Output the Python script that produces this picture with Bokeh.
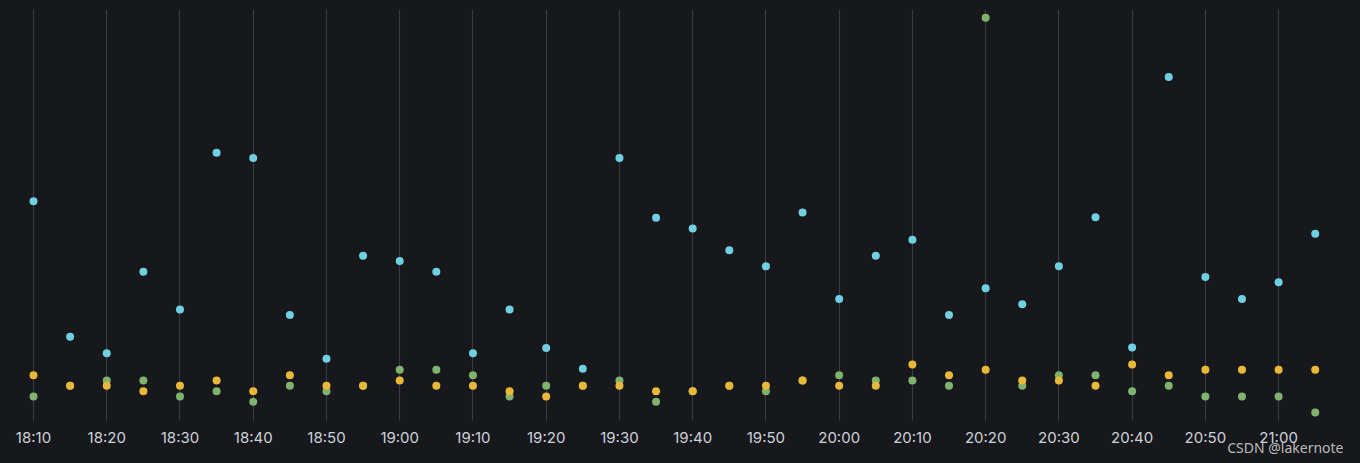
import pandas as pd
from bokeh.plotting import figure
from bokeh.models import Range1d, FixedTicker, DatetimeTickFormatter, Title, ColumnDataSource
from bokeh.embed import file_html
from bokeh.resources import INLINE

# ---- data ----
times = pd.date_range("2022-01-01 18:10", "2022-01-01 21:05", freq="5min")

cyan_values = [40.6, 15.2, 12.1, 27.4, 20.3, 49.7, 48.7, 19.3, 11.1, 30.4, 29.4, 27.4,
               12.1, 20.3, 13.1, 9.2, 48.7, 37.5, 35.5, 31.4, 28.4, 38.5, 22.3, 30.4,
               33.4, 19.3, 24.3, 21.3, 28.4, 37.6, 13.2, 63.9, 26.4, 22.3, 25.4, 34.5]
green_values = [4, 6, 7, 7, 4, 5, 3, 6, 5, 6, 9, 9,
                8, 4, 6, 6, 7, 3, 5, 6, 5, 7, 8, 7,
                7, 6, 75, 6, 8, 8, 5, 6, 4, 4, 4, 1]
yellow_values = [8, 6, 6, 5, 6, 7, 5, 8, 6, 6, 7, 6,
                 6, 5, 4, 6, 6, 5, 5, 6, 6, 7, 6, 6,
                 10, 8, 9, 7, 7, 6, 10, 8, 9, 9, 9, 9]
tick_times = pd.date_range("2022-01-01 18:10", "2022-01-01 21:00", freq="10min")

BG = "#17181c"
CYAN = "#6ED0E0"
GREEN = "#7EB26D"
YELLOW = "#EAB839"

src = ColumnDataSource(dict(t=times, cyan=cyan_values, green=green_values, yellow=yellow_values))

x0 = pd.Timestamp("2022-01-01 18:10")
x_start = x0 - pd.Timedelta(minutes=4.506)
x_end = x0 + pd.Timedelta(minutes=181.18)

p = figure(width=1360, height=463, output_backend="svg", toolbar_location=None,
           x_axis_type="datetime", y_axis_location=None,
           x_range=Range1d(x_start, x_end), y_range=Range1d(-0.5, 76.56),
           min_border_left=0, min_border_right=0, min_border_top=9, min_border_bottom=43)
p.background_fill_color = BG
p.border_fill_color = BG
p.outline_line_color = None
p.styles = {"background-color": BG}

ticks_ms = [t.value // 10**6 for t in tick_times]
p.xaxis.ticker = FixedTicker(ticks=ticks_ms)
p.xaxis.formatter = DatetimeTickFormatter(minutes="%H:%M", hourmin="%H:%M", hours="%H:%M",
                                          days="%H:%M", minsec="%H:%M", seconds="%H:%M")
p.xaxis.axis_line_color = None
p.xaxis.major_tick_line_color = None
p.xaxis.minor_tick_line_color = None
p.xaxis.major_tick_out = 0
p.xaxis.major_tick_in = 0
p.xaxis.minor_tick_out = 0
p.xaxis.minor_tick_in = 0
p.xaxis.major_label_text_color = "#ccd2da"
p.xaxis.major_label_text_font = "Inter"
p.xaxis.major_label_text_font_size = "15px"
p.xaxis.major_label_standoff = 7

p.xgrid.ticker = FixedTicker(ticks=ticks_ms)
p.xgrid.grid_line_color = "#3a3b40"
p.xgrid.grid_line_width = 1.2
p.ygrid.grid_line_color = None

p.scatter("t", "cyan", source=src, size=8, color=CYAN, line_color=None)
p.scatter("t", "green", source=src, size=8, color=GREEN, line_color=None)
p.scatter("t", "yellow", source=src, size=8, color=YELLOW, line_color=None)

wm = Title(text="CSDN @lakernote", align="right", vertical_align="top", offset=17, standoff=-24,
           text_color="#d0d0d0", text_font="Noto Sans", text_font_size="14px",
           text_font_style="normal", text_alpha=0.9)
p.add_layout(wm, "below")

open("out.html", "w").write(file_html(p, INLINE))
